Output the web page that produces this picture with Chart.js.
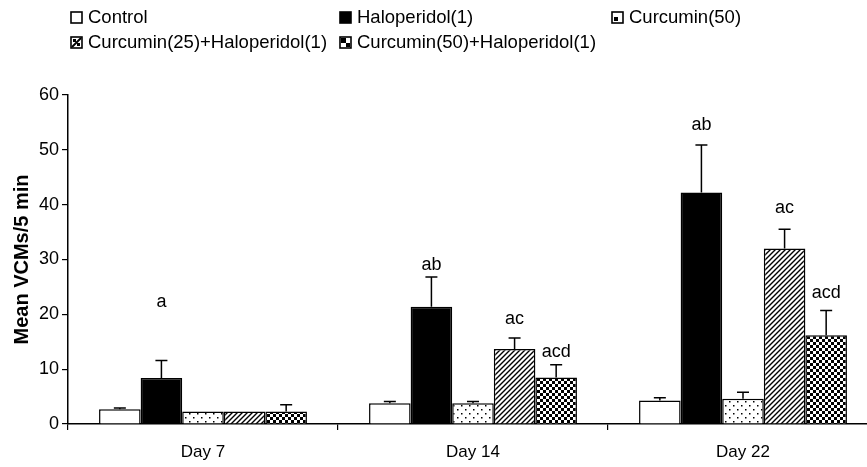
<!DOCTYPE html>
<html>
<head>
<meta charset="utf-8">
<script src="https://cdn.jsdelivr.net/npm/chart.js@4"></script>
<style>
  body { margin: 0; width: 867px; height: 467px; overflow: hidden; background: #fff; }
  #wrap { position: absolute; left: 0; top: 0; width: 880px; height: 467px; }
  #legend { position: absolute; left: 0; top: 0; width: 867px; font-family: "Liberation Sans", Arial, sans-serif; font-size: 18.5px; color: #000; }
  .item { position: absolute; white-space: nowrap; line-height: 20px; }
  .item canvas { vertical-align: -1px; margin-right: 5px; }
</style>
</head>
<body>
<div id="wrap"><canvas id="chart"></canvas></div>
<div id="legend"></div>
<script>
const days = ["Day 7", "Day 14", "Day 22"];
const groups = ["Control", "Haloperidol(1)", "Curcumin(50)", "Curcumin(25)+Haloperidol(1)", "Curcumin(50)+Haloperidol(1)"];

const control = [2.7, 3.8, 4.3];
const haloperidol = [8.4, 21.4, 42.2];
const curcumin50 = [2.3, 3.8, 4.6];
const cur25Halo = [2.3, 13.7, 32.0];
const cur50Halo = [2.3, 8.5, 16.2];

// top of the error bar (mean + SEM)
const controlErr = [2.9, 4.1, 4.8];
const haloperidolErr = [11.6, 26.8, 50.9];
const curcumin50Err = [2.3, 4.1, 5.8];
const cur25HaloErr = [2.3, 15.7, 35.5];
const cur50HaloErr = [3.5, 10.8, 20.7];

// significance letters and the height they sit at
const haloperidolNote = ["a", "ab", "ab"];
const haloperidolNoteY = [22.3, 29.0, 54.5];
const cur25HaloNote = ["", "ac", "ac"];
const cur25HaloNoteY = [0, 19.1, 39.4];
const cur50HaloNote = ["", "acd", "acd"];
const cur50HaloNoteY = [0, 13.2, 23.9];

const yTicks = [0, 10, 20, 30, 40, 50, 60];

const FONT = "'Liberation Sans', Arial, sans-serif";

function makePattern(kind) {
  const c = document.createElement("canvas");
  const g = c.getContext("2d");
  if (kind === "dots") {
    c.width = 8; c.height = 8;
    g.fillStyle = "#fff"; g.fillRect(0, 0, 8, 8);
    g.fillStyle = "#000";
    g.fillRect(1, 1, 1.5, 1.5);
    g.fillRect(5, 5, 1.5, 1.5);
  } else if (kind === "hatch") {
    c.width = 5; c.height = 5;
    g.fillStyle = "#fff"; g.fillRect(0, 0, 5, 5);
    g.strokeStyle = "#000"; g.lineWidth = 1.4;
    g.beginPath();
    g.moveTo(-1, 6); g.lineTo(6, -1);
    g.moveTo(-1, 1); g.lineTo(1, -1);
    g.moveTo(4, 6); g.lineTo(6, 4);
    g.stroke();
  } else {
    c.width = 6; c.height = 6;
    g.fillStyle = "#000"; g.fillRect(0, 0, 6, 6);
    g.fillStyle = "#fff";
    g.fillRect(0, 0, 3, 3);
    g.fillRect(3, 3, 3, 3);
  }
  return g.createPattern(c, "repeat");
}

const fills = ["#ffffff", "#000000", makePattern("dots"), makePattern("hatch"), makePattern("checker")];
const values = [control, haloperidol, curcumin50, cur25Halo, cur50Halo];
const errs = [controlErr, haloperidolErr, curcumin50Err, cur25HaloErr, cur50HaloErr];
const notes = [null, haloperidolNote, null, cur25HaloNote, cur50HaloNote];
const noteY = [null, haloperidolNoteY, null, cur25HaloNoteY, cur50HaloNoteY];

const errorBars = {
  id: "errorBars",
  afterDatasetsDraw(chart) {
    const ctx = chart.ctx;
    const y = chart.scales.y;
    ctx.save();
    ctx.strokeStyle = "#000";
    ctx.lineWidth = 1.5;
    ctx.fillStyle = "#000";
    ctx.font = "18px " + FONT;
    ctx.textAlign = "center";
    ctx.textBaseline = "middle";
    chart.data.datasets.forEach(function (ds, i) {
      const meta = chart.getDatasetMeta(i);
      meta.data.forEach(function (bar, j) {
        const top = y.getPixelForValue(errs[i][j]);
        if (errs[i][j] > values[i][j]) {
          ctx.beginPath();
          ctx.moveTo(bar.x, bar.y);
          ctx.lineTo(bar.x, top);
          ctx.moveTo(bar.x - 6, top);
          ctx.lineTo(bar.x + 6, top);
          ctx.stroke();
        }
        if (notes[i] && notes[i][j]) {
          ctx.fillText(notes[i][j], bar.x, y.getPixelForValue(noteY[i][j]));
        }
      });
    });
    ctx.restore();
  }
};

new Chart(document.getElementById("chart"), {
  type: "bar",
  data: {
    labels: days,
    datasets: groups.map(function (name, i) {
      return {
        label: name,
        data: values[i],
        backgroundColor: fills[i],
        borderColor: "#000",
        borderWidth: 1.5,
        categoryPercentage: 0.77,
        barPercentage: 1
      };
    })
  },
  options: {
    responsive: true,
    maintainAspectRatio: false,
    animation: false,
    layout: { padding: { top: 95, right: 2, left: 0, bottom: 0 } },
    plugins: { legend: { display: false }, tooltip: { enabled: false } },
    scales: {
      x: {
        grid: { display: true, drawOnChartArea: false, drawTicks: true, tickLength: 6, color: "#000", lineWidth: 1.2 },
        border: { color: "#000", width: 1.5 },
        ticks: { color: "#000", font: { family: FONT, size: 17 }, padding: 12 },
        afterFit: function (s) { s.height = 43; }
      },
      y: {
        min: 0,
        max: 60,
        afterBuildTicks: function (s) { s.ticks = yTicks.map(function (v) { return { value: v }; }); },
        grid: { display: true, drawOnChartArea: false, drawTicks: true, tickLength: 6, color: "#000", lineWidth: 1.2 },
        border: { color: "#000", width: 1.5 },
        ticks: { color: "#000", font: { family: FONT, size: 18 }, padding: 3 },
        title: { display: true, text: "Mean VCMs/5 min", color: "#000", font: { family: FONT, size: 20, weight: "bold" }, padding: { top: 10, bottom: 0 } },
        afterFit: function (s) { s.width = 68; }
      }
    }
  },
  plugins: [errorBars]
});

// legend: three columns, two rows
function swatch(i) {
  const c = document.createElement("canvas");
  c.width = 13; c.height = 13;
  const g = c.getContext("2d");
  g.fillStyle = "#fff"; g.fillRect(0, 0, 13, 13);
  g.fillStyle = "#000";
  if (i === 1) g.fillRect(1, 1, 11, 11);
  if (i === 2) g.fillRect(3, 6, 4, 4);
  if (i === 3) {
    g.lineWidth = 2; g.beginPath(); g.moveTo(2, 11); g.lineTo(11, 2); g.stroke();
    g.fillRect(7, 7, 3, 3); g.fillRect(3, 3, 3, 3);
  }
  if (i === 4) { g.fillRect(2, 2, 5, 5); g.fillRect(7, 7, 4, 4); }
  g.strokeStyle = "#000"; g.lineWidth = 1.6;
  g.strokeRect(1, 1, 11, 11);
  return c;
}
const legendPos = [[70, 7], [339, 7], [611, 7], [70, 32], [339, 32]];
const legend = document.getElementById("legend");
groups.forEach(function (name, i) {
  const d = document.createElement("div");
  d.className = "item";
  d.style.left = legendPos[i][0] + "px";
  d.style.top = legendPos[i][1] + "px";
  d.appendChild(swatch(i));
  d.appendChild(document.createTextNode(name));
  legend.appendChild(d);
});
</script>
</body>
</html>
